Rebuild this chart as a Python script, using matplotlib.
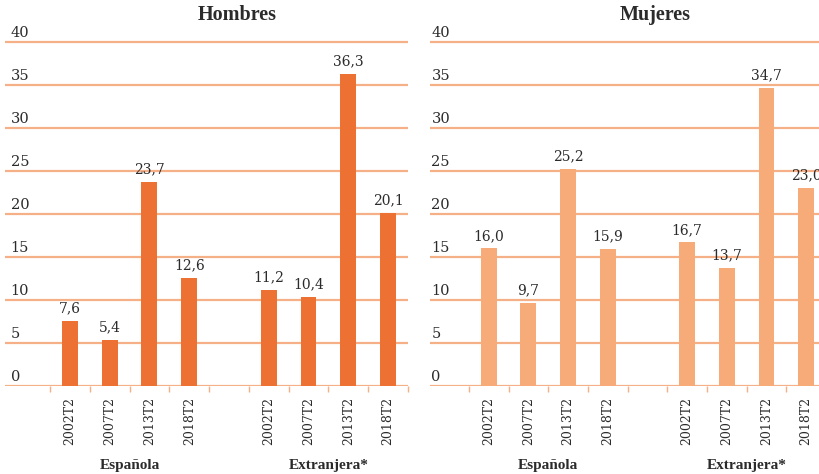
import matplotlib
matplotlib.use("Agg")
import matplotlib.pyplot as plt
from matplotlib.transforms import blended_transform_factory

# data
periods = ["2002T2", "2007T2", "2013T2", "2018T2"]
groups = ["Española", "Extranjera*"]
hombres_espanola = [7.6, 5.4, 23.7, 12.6]
hombres_extranjera = [11.2, 10.4, 36.3, 20.1]
mujeres_espanola = [16.0, 9.7, 25.2, 15.9]
mujeres_extranjera = [16.7, 13.7, 34.7, 23.0]
y_ticks = [0, 5, 10, 15, 20, 25, 30, 35, 40]

GRID = "#F6B088"
TEXT = "#2b2b2b"
SERIF = ["Liberation Serif", "DejaVu Serif"]
NUM = ["DejaVu Serif"]

plt.rcParams["font.family"] = SERIF

W, H = 819, 474
fig = plt.figure(figsize=(W / 100, H / 100), dpi=100)

px_per_unit = 8.6
y0_px = 386
ymax = 41
bottom = (H - y0_px) / H
height = ymax * px_per_unit / H


def fmt(v):
    return f"{v:.1f}".replace(".", ",")


def panel(left_px, right_px, xmin, values_a, values_b, color, title, ylab_dx):
    ax = fig.add_axes([left_px / W, bottom, (right_px - left_px) / W, height])
    xs_a = list(range(len(values_a)))
    xs_b = [i + len(values_a) + 1 for i in range(len(values_b))]
    xs = xs_a + xs_b
    vals = list(values_a) + list(values_b)

    for t in y_ticks:
        ax.axhline(t, color=GRID, lw=1.6, zorder=0)
    ax.bar(xs, vals, width=0.4, color=color, zorder=2)
    for x, v in zip(xs, vals):
        ax.annotate(fmt(v), (x, v), textcoords="offset points", xytext=(0, 4),
                    ha="center", va="bottom", fontsize=10, color=TEXT,
                    family=NUM)

    ax.set_xlim(xmin, xs[-1] + 0.5)
    ax.set_ylim(0, ymax)
    for s in ax.spines.values():
        s.set_visible(False)

    ax.set_yticks([])
    ytr = blended_transform_factory(ax.transAxes, ax.transData)
    for t in y_ticks:
        ax.annotate(str(t), (0, t), xycoords=ytr, textcoords="offset points",
                    xytext=(ylab_dx, 1.5), ha="left", va="bottom",
                    fontsize=10.5, color=TEXT, family=NUM)

    ax.set_xticks(xs)
    ax.set_xticklabels(periods + periods, rotation=90, fontsize=9, color=TEXT,
                       family=NUM)
    ax.tick_params(axis="x", which="major", length=0, pad=8)
    ax.set_xticks([i - 0.5 for i in range(xs[-1] + 2)], minor=True)
    ax.tick_params(axis="x", which="minor", length=4, width=1, color=GRID)

    gtr = blended_transform_factory(ax.transData, fig.transFigure)
    centers = [sum(xs_a) / len(xs_a), sum(xs_b) / len(xs_b)]
    for c, g in zip(centers, groups):
        ax.text(c, 1 - 465 / H, g, transform=gtr, ha="center", va="center",
                fontsize=11, fontweight="bold", color=TEXT)
    ax.text(4.2, 1 - 15 / H, title, transform=gtr, ha="center", va="center",
            fontsize=14.5, fontweight="bold", color=TEXT)
    return ax


panel(5, 408, -1.63, hombres_espanola, hombres_extranjera, "#EC7132", "Hombres", 4)
# the right panel runs past the edge of the figure, as in the cropped reference
panel(430, 826, -1.48, mujeres_espanola, mujeres_extranjera, "#F6AB78", "Mujeres", 1)

fig.savefig("out.png", dpi=100)
